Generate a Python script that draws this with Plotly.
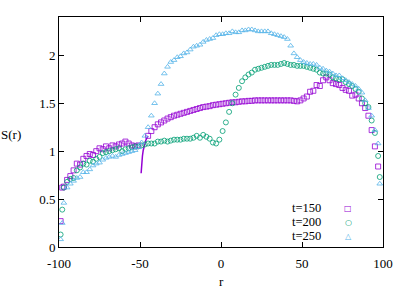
import plotly.graph_objects as go

# ---------------- data ----------------
# t=150 (squares)
r150 = [-99, -98] + list(range(-97, -50, 2)) + list(range(-45, 98, 2))
s150 = [
    0.27, 0.62,
    0.63, 0.70, 0.74, 0.80, 0.87, 0.86, 0.92, 0.95, 0.97,
    0.96, 1.00, 1.03, 1.02, 1.05, 1.03, 1.06, 1.05, 1.07, 1.08,
    1.10, 1.08, 1.06, 1.05, 1.06,
    1.16, 1.21, 1.25, 1.28, 1.30, 1.32, 1.34, 1.355, 1.37, 1.38,
    1.39, 1.40, 1.41, 1.42, 1.43, 1.44, 1.45, 1.46, 1.465, 1.47,
    1.48, 1.485, 1.49, 1.495, 1.50, 1.505, 1.51, 1.51, 1.515, 1.52,
    1.52, 1.525, 1.525, 1.53, 1.53, 1.53, 1.53, 1.53, 1.53, 1.53,
    1.53, 1.53, 1.53, 1.53, 1.53, 1.525, 1.52, 1.53, 1.55, 1.57,
    1.62, 1.63, 1.69, 1.68, 1.74, 1.77, 1.74, 1.71, 1.70, 1.69,
    1.66, 1.64, 1.63, 1.58, 1.59, 1.55, 1.50, 1.45, 1.37, 1.22,
    1.05, 0.84,
]
# t=150 steep rise just right of r=-50 (drawn as a thin line)
r150_edge = [-49.3, -49.0, -48.5, -48.0, -47.5, -47.0, -46.5, -46.0, -45.0]
s150_edge = [0.77, 0.86, 0.95, 1.01, 1.05, 1.08, 1.11, 1.13, 1.16]

# t=200 (circles) and t=250 (triangles) share the same r values
r_all = [-99, -98] + list(range(-97, 98, 2)) + [98]
s200 = [
    0.13, 0.39,
    0.62, 0.68, 0.71, 0.72, 0.80, 0.83, 0.87, 0.86, 0.90,
    0.89, 0.92, 0.94, 0.98, 0.99, 1.00, 1.01, 1.02, 1.03, 1.00,
    1.02, 1.03, 1.04, 1.05, 1.05,
    1.06, 1.07, 1.08, 1.08, 1.08, 1.10, 1.10, 1.11, 1.10, 1.11,
    1.12, 1.12, 1.12, 1.13, 1.13, 1.13, 1.14, 1.16, 1.14, 1.17,
    1.15, 1.13, 1.09, 1.08, 1.12, 1.21, 1.30, 1.41, 1.50, 1.59,
    1.66, 1.73, 1.77, 1.80, 1.82, 1.85, 1.86, 1.87, 1.88, 1.89,
    1.90, 1.90, 1.90, 1.91, 1.92, 1.91, 1.90, 1.90, 1.89, 1.89,
    1.89, 1.88, 1.87, 1.86, 1.85, 1.82, 1.81, 1.81, 1.80, 1.77,
    1.76, 1.75, 1.75, 1.72, 1.70, 1.68, 1.65, 1.62, 1.55, 1.50,
    1.46, 1.32, 1.19, 0.95,
    0.73,
]
s250 = [
    0.08, 0.25,
    0.46, 0.62, 0.66, 0.69, 0.72, 0.73, 0.78, 0.78, 0.81,
    0.85, 0.87, 0.88, 0.91, 0.93, 0.94, 0.95, 0.94, 0.96, 0.97,
    0.98, 0.99, 1.00, 1.01, 1.04,
    1.09, 1.16, 1.25, 1.37, 1.50, 1.60, 1.70, 1.81, 1.88, 1.93,
    1.95, 1.98, 1.99, 2.02, 2.03, 2.06, 2.09, 2.10, 2.11, 2.14,
    2.16, 2.17, 2.18, 2.21, 2.22, 2.22, 2.23, 2.23, 2.25, 2.24,
    2.24, 2.26, 2.26, 2.27, 2.27, 2.26, 2.25, 2.25, 2.25, 2.25,
    2.23, 2.22, 2.21, 2.20, 2.19, 2.17, 2.10, 2.02, 1.98, 1.95,
    1.93, 1.92, 1.91, 1.91, 1.90, 1.87, 1.86, 1.84, 1.83, 1.81,
    1.79, 1.79, 1.76, 1.74, 1.72, 1.70, 1.68, 1.65, 1.61, 1.53,
    1.45, 1.37, 1.22, 1.08,
    0.66,
]

labels = ["t=150", "t=200", "t=250"]
x_ticks = [-100, -50, 0, 50, 100]
y_ticks = [0, 0.5, 1, 1.5, 2]
y_ticktext = ["0", "0.5", "1", "1.5", "2"]

# ---------------- style ----------------
C150, C200, C250 = "#9400d3", "#009e73", "#56b4e9"
FONT = "Liberation Serif"
FS = 13

def mk(symbol, color):
    return dict(symbol=symbol, size=5, color=color, line=dict(width=0.8, color=color))

fig = go.Figure()
fig.add_trace(go.Scatter(x=r150, y=s150, mode="markers", name=labels[0],
                         marker=mk("square-open", C150), showlegend=False))
fig.add_trace(go.Scatter(x=r150_edge, y=s150_edge, mode="lines", name=labels[0],
                         line=dict(color=C150, width=1.5), showlegend=False))
fig.add_trace(go.Scatter(x=r_all, y=s200, mode="markers", name=labels[1],
                         marker=mk("circle-open", C200), showlegend=False))
fig.add_trace(go.Scatter(x=r_all, y=s250, mode="markers", name=labels[2],
                         marker=mk("triangle-up-open", C250), showlegend=False))

axis_common = dict(showgrid=False, zeroline=False, showline=True, linecolor="black",
                   linewidth=1, mirror="allticks", ticks="inside", ticklen=5,
                   tickcolor="black", tickwidth=1, automargin=False,
                   tickfont=dict(family=FONT, size=FS, color="black"))

fig.update_xaxes(range=[-100, 100], tickvals=x_ticks,
                 ticktext=[str(v) for v in x_ticks], ticklabelstandoff=4,
                 **axis_common)
fig.update_yaxes(range=[0, 2.4], tickvals=y_ticks, ticktext=y_ticktext,
                 **axis_common)

txt = dict(family=FONT, size=FS, color="black")
key_txt = dict(family=FONT, size=12.5, color="black")
annotations = [
    dict(text="S(r)", x=-0.148, y=0.49, xref="paper", yref="paper",
         xanchor="center", yanchor="middle", showarrow=False, font=txt),
    dict(text="r", x=0.5, y=-0.152, xref="paper", yref="paper",
         xanchor="center", yanchor="middle", showarrow=False, font=txt),
]
key_rows = [0.168, 0.107, 0.047]
key_glyphs = ["\u25a1", "\u25cb", "\u25b3"]
key_colors = [C150, C200, C250]
for lab, yy, g, c in zip(labels, key_rows, key_glyphs, key_colors):
    annotations.append(dict(text=lab, x=0.812, y=yy, xref="paper", yref="paper",
                            xanchor="right", yanchor="middle", showarrow=False,
                            borderpad=0, font=key_txt))
    annotations.append(dict(text=g, x=0.892, y=yy, xref="paper", yref="paper",
                            xanchor="center", yanchor="middle", showarrow=False,
                            font=dict(family="DejaVu Sans", size=8, color=c)))

fig.update_layout(width=415, height=291,
                  margin=dict(l=59, r=32, t=17, b=44),
                  plot_bgcolor="white", paper_bgcolor="white",
                  annotations=annotations, showlegend=False)

fig.write_html("out.html", config={"displayModeBar": False},
               post_script="document.body.style.margin='0';"
                           "document.body.style.overflow='hidden';")
